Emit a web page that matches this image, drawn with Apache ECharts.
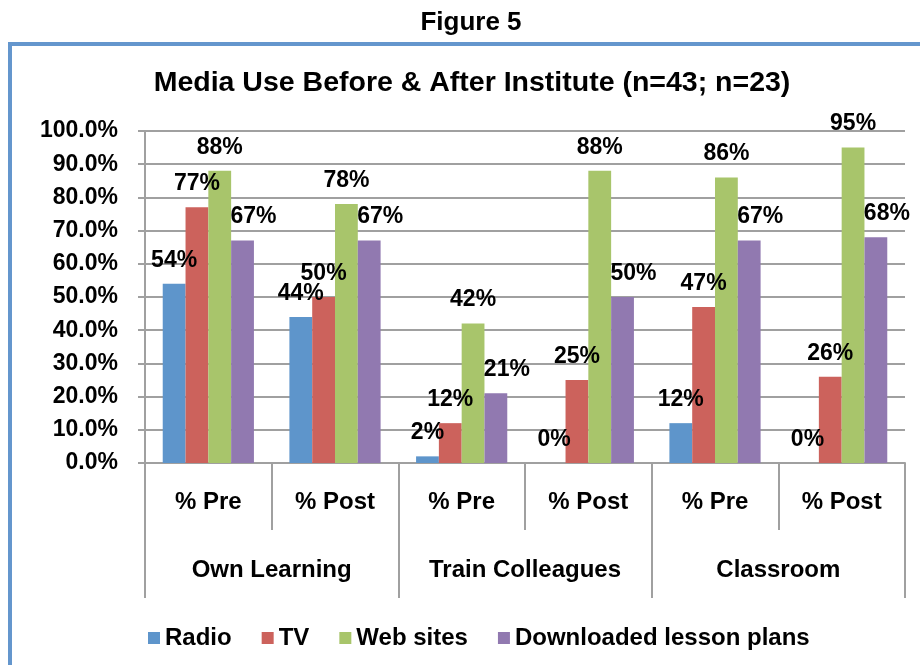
<!DOCTYPE html>
<html>
<head>
<meta charset="utf-8">
<title>Figure 5</title>
<script src="https://cdn.jsdelivr.net/npm/echarts@6/dist/echarts.min.js"></script>
<style>
  html, body { margin: 0; padding: 0; background: #ffffff; }
  #chart { width: 920px; height: 665px; }
</style>
</head>
<body>
<div id="chart"></div>
<script>
// Sub-categories along the first axis row, and their parent groups
var categories = ['% Pre', '% Post', '% Pre', '% Post', '% Pre', '% Post'];
var groups = ['Own Learning', 'Train Colleagues', 'Classroom'];

// Share of respondents using each medium (%)
var radio = [54, 44, 2, 0, 12, 0];
var tv = [77, 50, 12, 25, 47, 26];
var webSites = [88, 78, 42, 88, 86, 95];
var lessonPlans = [67, 67, 21, 50, 67, 68];

var seriesNames = ['Radio', 'TV', 'Web sites', 'Downloaded lesson plans'];
var colors = ['#5E95CB', '#CC625C', '#A8C56B', '#9179B0'];

var FONT = '"Liberation Sans", Arial, sans-serif';
var GREY = '#A0A0A0';

function barSeries(name, data, color, labelOffset) {
  return {
    name: name,
    type: 'bar',
    xAxisIndex: 0,
    data: data,
    barGap: '0%',
    barCategoryGap: '28%',
    itemStyle: { color: color },
    label: {
      show: true,
      position: 'top',
      distance: 12,
      offset: labelOffset,
      formatter: '{c}%',
      color: '#000',
      fontFamily: FONT,
      fontWeight: 'bold',
      fontSize: 23
    }
  };
}

var chart = echarts.init(document.getElementById('chart'), null, { renderer: 'canvas' });

chart.setOption({
  animation: false,
  backgroundColor: '#ffffff',
  textStyle: { fontFamily: FONT },
  graphic: [
    {
      type: 'text',
      z: 10,
      style: {
        text: 'Figure 5', x: 471, y: 23,
        align: 'center', verticalAlign: 'middle',
        font: 'bold 26px ' + FONT, fill: '#000'
      }
    },
    {
      type: 'rect',
      z: 10,
      shape: { x: 10, y: 44, width: 960, height: 700 },
      style: { fill: 'none', stroke: '#6496CD', lineWidth: 4 }
    },
    {
      type: 'text',
      z: 10,
      style: {
        text: 'Media Use Before & After Institute (n=43; n=23)', x: 472, y: 83,
        align: 'center', verticalAlign: 'middle',
        font: 'bold 28.5px ' + FONT, fill: '#000'
      }
    }
  ],
  legend: {
    data: seriesNames,
    left: 143,
    top: 621,
    icon: 'rect',
    itemWidth: 12,
    itemHeight: 12,
    itemGap: 30,
    textStyle: { fontFamily: FONT, fontWeight: 'bold', fontSize: 24, color: '#000' }
  },
  grid: { left: 145, right: 15, top: 131, bottom: 202 },
  xAxis: [
    {
      type: 'category',
      data: categories,
      position: 'bottom',
      axisLine: { show: true, lineStyle: { color: GREY, width: 2 } },
      axisTick: { show: true, interval: 0, length: 67, lineStyle: { color: GREY, width: 2 } },
      axisLabel: {
        interval: 0, margin: 27, color: '#000',
        fontFamily: FONT, fontWeight: 'bold', fontSize: 24
      },
      splitLine: { show: false }
    },
    {
      type: 'category',
      data: groups,
      position: 'bottom',
      axisLine: { show: false },
      axisTick: { show: true, interval: 0, length: 135, lineStyle: { color: GREY, width: 2 } },
      axisLabel: {
        interval: 0, margin: 95, color: '#000',
        fontFamily: FONT, fontWeight: 'bold', fontSize: 24
      },
      splitLine: { show: false }
    }
  ],
  yAxis: {
    type: 'value',
    min: 0,
    max: 100,
    interval: 10,
    axisLine: { show: true, lineStyle: { color: GREY, width: 2 } },
    axisTick: { show: true, length: 7, lineStyle: { color: GREY, width: 2 } },
    axisLabel: {
      margin: 27, color: '#000',
      fontFamily: FONT, fontWeight: 'bold', fontSize: 23,
      formatter: function (v) { return v.toFixed(1) + '%'; }
    },
    splitLine: { show: true, lineStyle: { color: GREY, width: 2 } }
  },
  series: [
    barSeries(seriesNames[0], radio, colors[0], [0, 0]),
    barSeries(seriesNames[1], tv, colors[1], [0, 0]),
    barSeries(seriesNames[2], webSites, colors[2], [0, 0]),
    barSeries(seriesNames[3], lessonPlans, colors[3], [11, 0])
  ]
});
</script>
</body>
</html>
